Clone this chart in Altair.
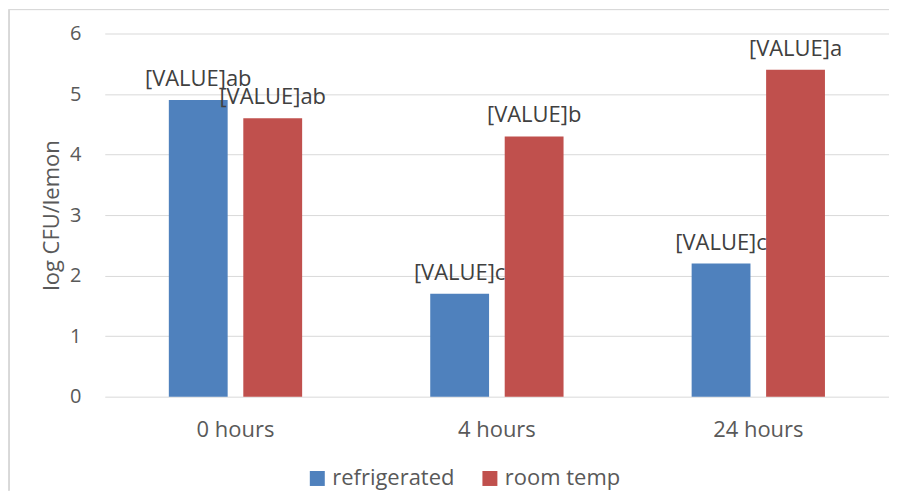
import altair as alt
import pandas as pd

times = ["0 hours", "4 hours", "24 hours"]
series = ["refrigerated", "room temp"]
refrigerated = [4.9, 1.7, 2.2]
room_temp = [4.6, 4.3, 5.4]
refrigerated_letters = ["ab", "c", "c"]
room_temp_letters = ["ab", "b", "a"]
colors = ["#4F81BD", "#C0504D"]
y_ticks = [0, 1, 2, 3, 4, 5, 6]

rows = []
for i, t in enumerate(times):
    rows.append({"time": t, "series": series[0], "value": refrigerated[i],
                 "label": "[VALUE]" + refrigerated_letters[i]})
    rows.append({"time": t, "series": series[1], "value": room_temp[i],
                 "label": "[VALUE]" + room_temp_letters[i]})
df = pd.DataFrame(rows)

W, H = 786, 364

x = alt.X("time:N", sort=times, title=None,
          scale=alt.Scale(paddingInner=0.49, paddingOuter=0.245),
          axis=alt.Axis(labelAngle=0, labelFontSize=22, labelColor="#595959",
                        labelPadding=23, ticks=False, tickSize=0, domain=False,
                        grid=False))
xo = alt.XOffset("series:N", sort=series,
                 scale=alt.Scale(paddingInner=0.21, paddingOuter=0))
y = alt.Y("value:Q", title="log CFU/lemon",
          scale=alt.Scale(domain=[0, 6], nice=False),
          axis=alt.Axis(values=y_ticks, labelFontSize=20, labelColor="#595959",
                        labelPadding=24, ticks=False, tickSize=0, domain=False,
                        grid=True, gridColor="#D9D9D9", gridWidth=1,
                        titleFontSize=22, titleFontWeight="normal",
                        titleColor="#595959", titleX=-53,
                        titleBaseline="middle"))

bars = alt.Chart(df).mark_bar().encode(
    x=x, xOffset=xo, y=y,
    color=alt.Color("series:N", sort=series,
                    scale=alt.Scale(domain=series, range=colors),
                    legend=alt.Legend(title=None, orient="none", direction="horizontal",
                                      legendX=202, legendY=435, padding=0,
                                      symbolType="square", symbolSize=225,
                                      symbolStrokeWidth=0, labelFontSize=22,
                                      labelColor="#595959", labelOffset=4,
                                      columnPadding=24)),
)

labels = alt.Chart(df).mark_text(
    fontSize=22, color="#404040", baseline="alphabetic", dy=-14
).encode(x=x, xOffset=xo, y=y, text="label:N")

border_left = alt.Chart(df).mark_rule(color="#D9D9D9", strokeWidth=1).encode(
    x=alt.value(-96), y=alt.value(-24), y2=alt.value(H + 94))
border_top = alt.Chart(df).mark_rule(color="#D9D9D9", strokeWidth=1).encode(
    x=alt.value(-96), x2=alt.value(W), y=alt.value(-24))

chart = alt.layer(border_left, border_top, bars, labels).properties(
    width=W, height=H,
    autosize=alt.AutoSizeParams(type="none"),
    padding={"left": 97, "top": 25, "right": 0, "bottom": 94},
).configure(font="Open Sans").configure_view(stroke=None)

chart.save("out.html", embed_options={"renderer": "svg", "actions": False})
